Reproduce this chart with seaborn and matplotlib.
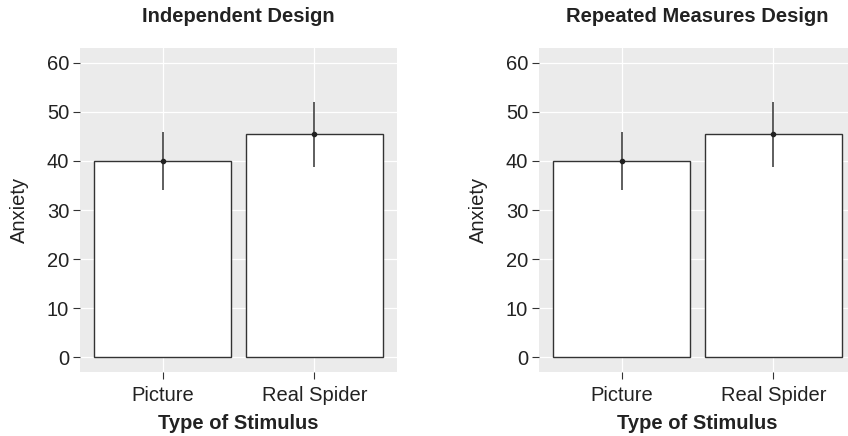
import numpy as np
import pandas as pd
import matplotlib
matplotlib.use("Agg")
import matplotlib.pyplot as plt
import seaborn as sns

# data
stimulus = ["Picture", "Real Spider"]
ind_mean = [40.0, 45.5]
ind_low = [34.1, 38.7]
ind_high = [45.9, 52.0]
rm_mean = [40.0, 45.5]
rm_low = [34.1, 38.7]
rm_high = [45.9, 52.0]
y_ticks = [0, 10, 20, 30, 40, 50, 60]

sns.set_theme(style="darkgrid", rc={
    "axes.facecolor": "#EBEBEB",
    "grid.color": "white",
    "grid.linewidth": 1.0,
    "xtick.bottom": True,
    "ytick.left": True,
})
plt.rcParams['font.family'] = ['Liberation Sans', 'DejaVu Sans']

text_col = "#222222"
fig = plt.figure(figsize=(8.48, 4.36), dpi=100)

panels = [
    ("Independent Design", ind_mean, ind_low, ind_high, [80 / 848, 64 / 436, 317 / 848, 324 / 436]),
    ("Repeated Measures Design", rm_mean, rm_low, rm_high, [539 / 848, 64 / 436, 317 / 848, 324 / 436]),
]

for title, mean, low, high, rect in panels:
    ax = fig.add_axes(rect)
    df = pd.DataFrame({"Stimulus": stimulus, "Anxiety": mean})
    sns.barplot(data=df, x="Stimulus", y="Anxiety", ax=ax, color="white",
                saturation=1, width=0.9, edgecolor="#333333", linewidth=1.0,
                errorbar=None)
    m = np.array(mean)
    yerr = [m - np.array(low), np.array(high) - m]
    ax.errorbar(np.arange(len(stimulus)), m, yerr=yerr, fmt="o", ms=3,
                color="#222222", ecolor="#333333", elinewidth=1.1, capsize=0, zorder=5)
    ax.set_axisbelow(True)
    ax.set_ylim(-3, 63)
    ax.set_xlim(-0.545, 1.545)
    ax.set_yticks(y_ticks)
    ax.grid(True, color="white", linewidth=0.9)
    for s in ax.spines.values():
        s.set_visible(False)
    ax.tick_params(axis="both", length=4.8, width=0.8, color="#333333",
                   labelsize=14.5, labelcolor=text_col, pad=3)
    ax.tick_params(axis="x", pad=5)
    ax.set_title(title, fontsize=14.5, fontweight="bold", color=text_col, pad=19)
    ax.set_xlabel("Type of Stimulus", fontsize=14.5, fontweight="bold", color=text_col, labelpad=7)
    ax.set_ylabel("Anxiety", fontsize=14.5, color=text_col, labelpad=13)

fig.savefig("out.png", dpi=100)
